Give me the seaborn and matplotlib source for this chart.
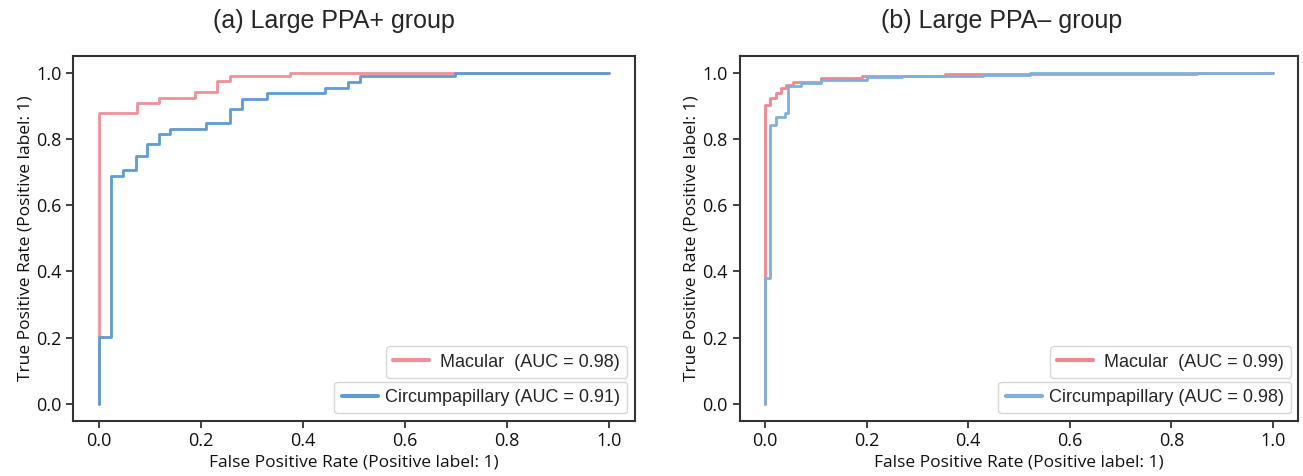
import numpy as np
import pandas as pd
import matplotlib
matplotlib.use('Agg')
import matplotlib.pyplot as plt
import seaborn as sns

# ROC corner points (steps-post)
# (a) Large PPA+ group
a_mac_fpr = [0, 0, 0.074, 0.118, 0.188, 0.232, 0.257, 0.375, 1.0]
a_mac_tpr = [0, 0.878, 0.908, 0.923, 0.941, 0.974, 0.989, 1.0, 1.0]
a_cir_fpr = [0, 0, 0.0235, 0.048, 0.0725, 0.095, 0.118, 0.139, 0.209, 0.256,
             0.280, 0.329, 0.443, 0.488, 0.512, 0.698, 1.0]
a_cir_tpr = [0, 0.203, 0.689, 0.705, 0.749, 0.785, 0.816, 0.831, 0.848, 0.890,
             0.921, 0.939, 0.954, 0.972, 0.989, 1.0, 1.0]
# (b) Large PPA- group
b_mac_fpr = [0, 0, 0.0098, 0.021, 0.0315, 0.041, 0.055, 0.11, 0.19, 0.354, 0.85, 1.0]
b_mac_tpr = [0, 0.902, 0.922, 0.938, 0.953, 0.963, 0.973, 0.983, 0.99, 0.995, 1.0, 1.0]
b_cir_fpr = [0, 0, 0.0098, 0.021, 0.040, 0.046, 0.07, 0.11, 0.2, 0.27, 0.43, 0.522, 1.0]
b_cir_tpr = [0, 0.38, 0.842, 0.867, 0.877, 0.958, 0.968, 0.978, 0.986, 0.99, 0.993, 1.0, 1.0]

titles = ['(a) Large PPA+ group', '(b) Large PPA\u2013 group']
auc_mac = [0.98, 0.99]
auc_cir = [0.91, 0.98]

sns.set_style('ticks')
plt.rcParams['font.family'] = ['Open Sans', 'DejaVu Sans']

fig = plt.figure(figsize=(13.03, 4.76), dpi=100)
ax1 = fig.add_axes([0.0564, 0.1164, 0.4306, 0.766])
ax2 = fig.add_axes([0.5676, 0.1164, 0.4289, 0.766])

panels = [
    (ax1, a_mac_fpr, a_mac_tpr, a_cir_fpr, a_cir_tpr, '#f0919a', '#5f9cd1'),
    (ax2, b_mac_fpr, b_mac_tpr, b_cir_fpr, b_cir_tpr, '#ee8891', '#7fb0dc'),
]

for i, (ax, mf, mt, cf, ct, c_red, c_blue) in enumerate(panels):
    df_m = pd.DataFrame({'fpr': mf, 'tpr': mt})
    df_c = pd.DataFrame({'fpr': cf, 'tpr': ct})
    sns.lineplot(data=df_m, x='fpr', y='tpr', ax=ax, estimator=None, sort=False,
                 drawstyle='steps-post', color=c_red, lw=2.0)
    sns.lineplot(data=df_c, x='fpr', y='tpr', ax=ax, estimator=None, sort=False,
                 drawstyle='steps-post', color=c_blue, lw=2.0)
    lines = ax.get_lines()
    ax.set_xlim(-0.05, 1.05)
    ax.set_ylim(-0.05, 1.05)
    ax.set_xticks([0, 0.2, 0.4, 0.6, 0.8, 1.0])
    ax.set_yticks([0, 0.2, 0.4, 0.6, 0.8, 1.0])
    ax.tick_params(labelsize=13, length=5, width=1.2, color='#222222',
                   labelcolor='#111111')
    ax.set_xlabel('False Positive Rate (Positive label: 1)', fontsize=12.5,
                  labelpad=3, color='#111111')
    ax.set_ylabel('True Positive Rate (Positive label: 1)', fontsize=12.5,
                  labelpad=2, color='#111111')
    for s in ax.spines.values():
        s.set_color('#333333')
        s.set_linewidth(1.5)

    leg_font = {'family': 'Liberation Sans', 'size': 13}
    leg1 = ax.legend([lines[0]], ['Macular  (AUC = %.2f)' % auc_mac[i]],
                     loc='lower right', bbox_to_anchor=(0.987, 0.117),
                     borderaxespad=0, prop=leg_font, handlelength=2.0,
                     handletextpad=0.6, borderpad=0.4, frameon=True,
                     fancybox=True, edgecolor='#cccccc')
    leg1.get_lines()[0].set_linewidth(3)
    ax.add_artist(leg1)
    leg2 = ax.legend([lines[1]], ['Circumpapillary (AUC = %.2f)' % auc_cir[i]],
                     loc='lower right', bbox_to_anchor=(0.987, 0.02),
                     borderaxespad=0, prop=leg_font, handlelength=2.0,
                     handletextpad=0.4, borderpad=0.4, frameon=True,
                     fancybox=True, edgecolor='#cccccc')
    leg2.get_lines()[0].set_linewidth(3)

fig.text(0.256, 0.955, titles[0], ha='center', va='center', fontsize=18,
         family='Liberation Sans')
fig.text(0.769, 0.955, titles[1], ha='center', va='center', fontsize=18,
         family='Liberation Sans')

fig.savefig('out.png', dpi=100)
